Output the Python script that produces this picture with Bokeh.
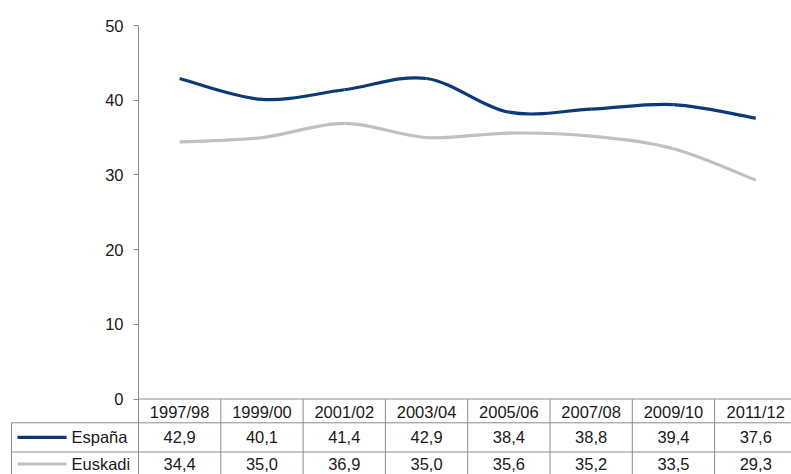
from bokeh.plotting import figure
from bokeh.models import Range1d, FixedTicker, ColumnDataSource
from bokeh.core.properties import value
from bokeh.embed import file_html
from bokeh.resources import INLINE

# ---- data ----
categories = ["1997/98", "1999/00", "2001/02", "2003/04", "2005/06", "2007/08", "2009/10", "2011/12"]
espana = [42.9, 40.1, 41.4, 42.9, 38.4, 38.8, 39.4, 37.6]
euskadi = [34.4, 35.0, 36.9, 35.0, 35.6, 35.2, 33.5, 29.3]
series_names = ["España", "Euskadi"]
y_ticks = [0, 10, 20, 30, 40, 50]

# ---- style / layout ----
NAVY = "#0b3a77"
LIGHT = "#c0c0c0"
GRID = "#8c8c8c"
TXT = "#1a1a1a"
FONT = "Liberation Sans"
FS = "16.5px"

W, H = 791, 474
LEFT, TOP = 138, 25
PX_COL = 82.3          # pixels per category column
PX_UNIT = 7.47         # pixels per y unit

x_end = -0.5 + (W - LEFT) / PX_COL
y_start = -(H - TOP - 50 * PX_UNIT) / PX_UNIT


def dx(px_from_axis):
    return -0.5 + px_from_axis / PX_COL


def dy(px_below_zero):
    return -px_below_zero / PX_UNIT


p = figure(width=W, height=H, output_backend="svg", toolbar_location=None,
           x_range=Range1d(-0.5, x_end), y_range=Range1d(y_start, 50),
           min_border_left=LEFT, min_border_top=TOP, min_border_right=0, min_border_bottom=0,
           x_axis_location=None)
p.outline_line_color = None
p.xgrid.visible = False
p.ygrid.visible = False
p.background_fill_color = "white"
p.border_fill_color = "white"

ax = p.yaxis[0]
ax.ticker = FixedTicker(ticks=y_ticks)
ax.bounds = (0, 50)
ax.axis_line_color = GRID
ax.axis_line_width = 1
ax.major_tick_line_color = GRID
ax.major_tick_in = 0
ax.major_tick_out = 5
ax.minor_tick_line_color = None
ax.major_label_standoff = 10
ax.major_label_text_font = FONT
ax.major_label_text_font_size = FS
ax.major_label_text_color = TXT


# ---- smoothed lines (bezier through the data points) ----
def bezier_source(vals):
    n = len(vals)
    d = dict(x0=[], y0=[], x1=[], y1=[], cx0=[], cy0=[], cx1=[], cy1=[])
    for i in range(n - 1):
        pm = max(i - 1, 0)
        pp = min(i + 2, n - 1)
        d["x0"].append(i)
        d["y0"].append(vals[i])
        d["x1"].append(i + 1)
        d["y1"].append(vals[i + 1])
        d["cx0"].append(i + (i + 1 - pm) / 6)
        d["cy0"].append(vals[i] + (vals[i + 1] - vals[pm]) / 6)
        d["cx1"].append(i + 1 - (pp - i) / 6)
        d["cy1"].append(vals[i + 1] - (vals[pp] - vals[i]) / 6)
    return ColumnDataSource(d)


for vals, col in [(euskadi, LIGHT), (espana, NAVY)]:
    p.bezier(x0="x0", y0="y0", x1="x1", y1="y1", cx0="cx0", cy0="cy0", cx1="cx1", cy1="cy1",
             source=bezier_source(vals), line_color=col, line_width=3.2)

# ---- data table ----
n = len(categories)
row_lines = [dy(23.8), dy(53.0)]
bottom = dy(85)
x_leftmost = dx(-127)

# vertical lines
vx = [-0.5 + k for k in range(n + 1)]
p.segment(x0=vx, y0=[0] * len(vx), x1=vx, y1=[bottom] * len(vx),
          line_color=GRID, line_width=1, level="overlay")
p.segment(x0=[x_leftmost], y0=[row_lines[0]], x1=[x_leftmost], y1=[bottom],
          line_color=GRID, line_width=1, level="overlay")
# horizontal lines
p.segment(x0=[-0.5], y0=[0], x1=[n - 0.5], y1=[0], line_color=GRID, line_width=1, level="overlay")
p.segment(x0=[x_leftmost] * 2, y0=row_lines, x1=[n - 0.5] * 2, y1=row_lines,
          line_color=GRID, line_width=1, level="overlay")

row_centers = [dy(12.5), dy(38.3), dy(65.0)]
idx = list(range(n))
p.text(x=idx, y=[row_centers[0]] * n, text=categories, text_align="center", text_baseline="middle",
       text_font=value(FONT), text_font_size=value(FS), text_color=TXT, level="overlay")
for r, vals in enumerate([espana, euskadi]):
    labels = [f"{v:.1f}".replace(".", ",") for v in vals]
    p.text(x=idx, y=[row_centers[r + 1]] * n, text=labels, text_align="center", text_baseline="middle",
           text_font=value(FONT), text_font_size=value(FS), text_color=TXT, level="overlay")

# legend cells
p.segment(x0=[dx(-121)] * 2, y0=row_centers[1:], x1=[dx(-72)] * 2, y1=row_centers[1:],
          line_color=[NAVY, LIGHT], line_width=3.2, level="overlay")
p.text(x=[dx(-67)] * 2, y=row_centers[1:], text=series_names, text_align="left", text_baseline="middle",
       text_font=value(FONT), text_font_size=value(FS), text_color=TXT, level="overlay")

open("out.html", "w").write(file_html(p, INLINE))
